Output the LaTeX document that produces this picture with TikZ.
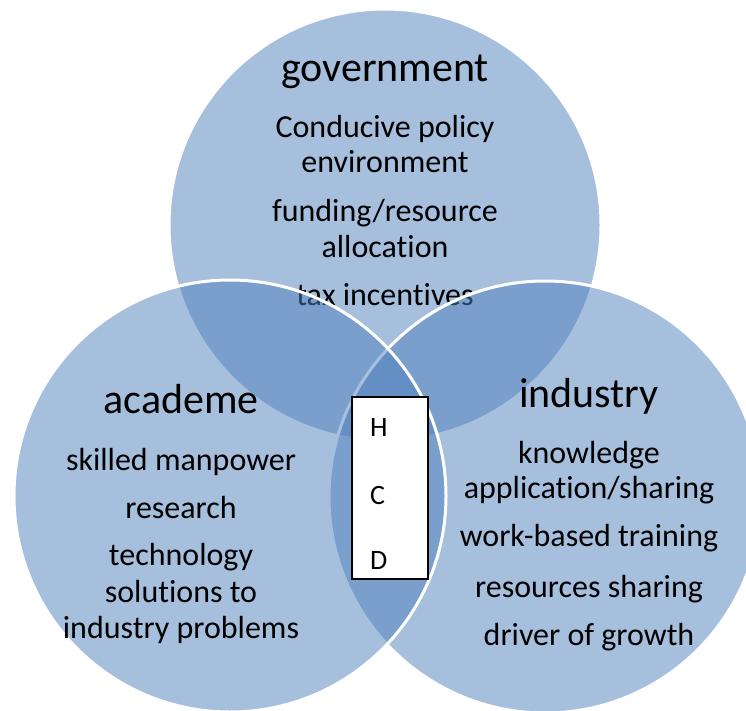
\documentclass[tikz,border=0pt]{standalone}
\usepackage{fontspec}
\setmainfont{Carlito}[Ligatures=NoCommon]
\definecolor{vennblue}{HTML}{4F81BD}
\tikzset{
  sector/.style={fill=vennblue, fill opacity=0.5, draw=white, line width=3pt},
  head/.style={anchor=base, inner sep=0pt, font=\fontsize{42}{50}\selectfont},
  entry/.style={anchor=base, inner sep=0pt, font=\fontsize{32}{35}\selectfont},
  letter/.style={anchor=base west, inner sep=0pt, font=\fontsize{28}{30}\selectfont},
}
\begin{document}
\begin{tikzpicture}[x=1pt, y=-1pt]
      \useasboundingbox (0,0) rectangle (746,711);
      \fill[white] (0,0) rectangle (746,711);
      \clip (0,0) rectangle (746,711);
      % government
      \filldraw[sector] (385,225) circle[radius=216pt];
      \node[head]  (govhead) at (385,82)  {government};
      \node[entry] (gova)    at (385,138) {Conducive policy};
      \node[entry] (govb)    at (385,173) {environment};
      \node[entry] (govc)    at (385,222) {funding/resource};
      \node[entry] (govd)    at (385,257) {allocation};
      \node[entry] (gove)    at (385,305) {tax incentives};
      % industry
      \filldraw[sector] (545,497) circle[radius=216pt];
      \node[head]  (indhead) at (589,407) {industry};
      \node[entry] (inda)    at (589,463) {knowledge};
      \node[entry] (indb)    at (589,498) {application/sharing};
      \node[entry] (indc)    at (589,546) {work-based training};
      \node[entry] (indd)    at (589,597) {resources sharing};
      \node[entry] (inde)    at (589,645) {driver of growth};
      % academe
      \filldraw[sector] (230,496) circle[radius=216pt];
      \node[head]  (acahead) at (181,413) {academe};
      \node[entry] (acaa)    at (181,470) {skilled manpower};
      \node[entry] (acab)    at (181,518) {research};
      \node[entry] (acac)    at (181,565) {technology};
      \node[entry] (acad)    at (181,602) {solutions to};
      \node[entry] (acae)    at (181,638) {industry problems};
      % box in the middle
      \node[draw=black, fill=white, line width=1.2pt, minimum width=76pt,
            minimum height=182pt, inner sep=0pt] (hcdbox) at (390,488) {};
      \node[letter] (hcdh) at (370,436) {H};
      \node[letter] (hcdc) at (370,504) {C};
      \node[letter] (hcdd) at (370,569) {D};
\end{tikzpicture}
\end{document}
